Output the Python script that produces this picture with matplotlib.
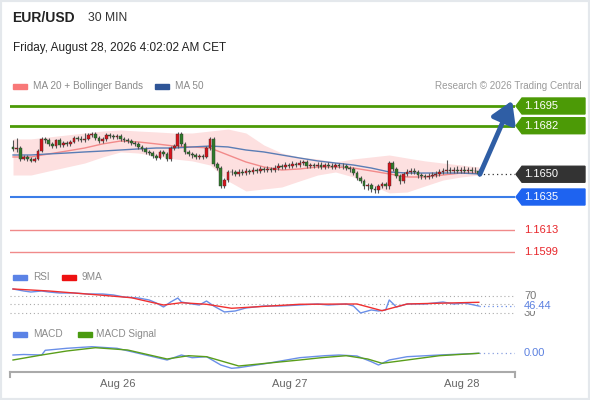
import numpy as np
import matplotlib.pyplot as plt
from matplotlib.patches import Polygon, Rectangle
from matplotlib.transforms import blended_transform_factory

plt.rcParams['font.family'] = ['Liberation Sans', 'DejaVu Sans']

# EUR/USD 30 min bars
first_open = 1.16680
closes = [
    1.16667, 1.16673, 1.16601, 1.16614, 1.16601, 1.16588, 1.16601, 1.16653, 1.16733, 1.16726,
    1.16700, 1.16686, 1.16726, 1.16693, 1.16706, 1.16700, 1.16713, 1.16739, 1.16733, 1.16726,
    1.16733, 1.16759, 1.16765, 1.16739, 1.16719, 1.16733, 1.16759, 1.16752, 1.16746, 1.16752,
    1.16733, 1.16726, 1.16719, 1.16706, 1.16700, 1.16680, 1.16667, 1.16647, 1.16640, 1.16620,
    1.16607, 1.16647, 1.16634, 1.16601, 1.16673, 1.16686, 1.16765, 1.16700, 1.16647, 1.16634,
    1.16627, 1.16614, 1.16620, 1.16614, 1.16673, 1.16733, 1.16568, 1.16541, 1.16423, 1.16462,
    1.16515, 1.16515, 1.16502, 1.16515, 1.16508, 1.16522, 1.16515, 1.16528, 1.16522, 1.16535,
    1.16528, 1.16535, 1.16528, 1.16541, 1.16555, 1.16548, 1.16561, 1.16555, 1.16568, 1.16561,
    1.16574, 1.16581, 1.16555, 1.16561, 1.16555, 1.16561, 1.16548, 1.16561, 1.16555, 1.16548,
    1.16561, 1.16555, 1.16555, 1.16541, 1.16535, 1.16508, 1.16475, 1.16456, 1.16423, 1.16429,
    1.16403, 1.16396, 1.16423, 1.16436, 1.16423, 1.16574, 1.16535, 1.16489, 1.16456, 1.16502,
    1.16515, 1.16522, 1.16515, 1.16495, 1.16489, 1.16482, 1.16489, 1.16495, 1.16502, 1.16515,
    1.16522, 1.16528, 1.16522, 1.16528, 1.16522, 1.16528, 1.16522, 1.16528, 1.16522, 1.16522,
    1.16500]
highs = [
    1.16726, 1.16739, 1.16686, 1.16627, 1.16627, 1.16614, 1.16614, 1.16667, 1.16746, 1.16746,
    1.16739, 1.16713, 1.16733, 1.16739, 1.16719, 1.16719, 1.16726, 1.16752, 1.16752, 1.16752,
    1.16772, 1.16772, 1.16779, 1.16779, 1.16752, 1.16746, 1.16772, 1.16772, 1.16765, 1.16765,
    1.16765, 1.16746, 1.16739, 1.16733, 1.16719, 1.16713, 1.16693, 1.16680, 1.16660, 1.16653,
    1.16634, 1.16660, 1.16660, 1.16647, 1.16686, 1.16700, 1.16779, 1.16779, 1.16713, 1.16660,
    1.16647, 1.16640, 1.16634, 1.16634, 1.16686, 1.16746, 1.16746, 1.16581, 1.16555, 1.16475,
    1.16528, 1.16535, 1.16528, 1.16535, 1.16535, 1.16541, 1.16535, 1.16548, 1.16541, 1.16555,
    1.16548, 1.16555, 1.16548, 1.16561, 1.16574, 1.16568, 1.16581, 1.16574, 1.16588, 1.16581,
    1.16594, 1.16594, 1.16594, 1.16574, 1.16574, 1.16581, 1.16581, 1.16574, 1.16581, 1.16574,
    1.16574, 1.16574, 1.16574, 1.16568, 1.16555, 1.16548, 1.16522, 1.16489, 1.16469, 1.16443,
    1.16443, 1.16423, 1.16436, 1.16449, 1.16449, 1.16588, 1.16588, 1.16548, 1.16502, 1.16515,
    1.16535, 1.16541, 1.16541, 1.16528, 1.16508, 1.16502, 1.16508, 1.16515, 1.16522, 1.16535,
    1.16541, 1.16594, 1.16548, 1.16548, 1.16555, 1.16548, 1.16555, 1.16548, 1.16548, 1.16548,
    1.16535]
lows = [
    1.16653, 1.16647, 1.16588, 1.16594, 1.16588, 1.16581, 1.16581, 1.16594, 1.16647, 1.16706,
    1.16686, 1.16673, 1.16673, 1.16680, 1.16680, 1.16686, 1.16686, 1.16706, 1.16719, 1.16713,
    1.16713, 1.16726, 1.16746, 1.16726, 1.16706, 1.16706, 1.16719, 1.16739, 1.16733, 1.16733,
    1.16719, 1.16713, 1.16706, 1.16693, 1.16686, 1.16667, 1.16653, 1.16634, 1.16627, 1.16607,
    1.16594, 1.16601, 1.16620, 1.16588, 1.16588, 1.16660, 1.16673, 1.16686, 1.16634, 1.16620,
    1.16607, 1.16601, 1.16601, 1.16601, 1.16607, 1.16660, 1.16555, 1.16528, 1.16410, 1.16410,
    1.16449, 1.16495, 1.16489, 1.16489, 1.16495, 1.16495, 1.16502, 1.16502, 1.16508, 1.16508,
    1.16515, 1.16515, 1.16515, 1.16515, 1.16528, 1.16535, 1.16535, 1.16541, 1.16541, 1.16548,
    1.16548, 1.16561, 1.16541, 1.16541, 1.16541, 1.16541, 1.16535, 1.16535, 1.16541, 1.16535,
    1.16535, 1.16541, 1.16535, 1.16528, 1.16515, 1.16495, 1.16462, 1.16443, 1.16403, 1.16396,
    1.16383, 1.16377, 1.16377, 1.16410, 1.16403, 1.16403, 1.16522, 1.16475, 1.16436, 1.16443,
    1.16489, 1.16502, 1.16502, 1.16475, 1.16469, 1.16469, 1.16469, 1.16475, 1.16482, 1.16489,
    1.16502, 1.16508, 1.16508, 1.16508, 1.16508, 1.16508, 1.16508, 1.16508, 1.16508, 1.16508,
    1.16489]
opens = [first_open] + closes[:-1]

# moving averages / bollinger, every 5th bar
ma_idx = list(range(0, 131, 5))
ma20 = [1.16614, 1.16614, 1.16634, 1.16653, 1.16673, 1.16700, 1.16719, 1.16713, 1.16700,
        1.16686, 1.16680, 1.16673, 1.16627, 1.16581, 1.16548, 1.16528, 1.16535, 1.16548,
        1.16548, 1.16541, 1.16522, 1.16502, 1.16482, 1.16482, 1.16495, 1.16508, 1.16508]
bb_up = [1.16733, 1.16733, 1.16746, 1.16759, 1.16772, 1.16785, 1.16792, 1.16785, 1.16779,
         1.16772, 1.16772, 1.16785, 1.16798, 1.16772, 1.16693, 1.16640, 1.16614, 1.16601,
         1.16581, 1.16601, 1.16614, 1.16627, 1.16607, 1.16588, 1.16574, 1.16561, 1.16548]
bb_low = [1.16495, 1.16495, 1.16522, 1.16548, 1.16574, 1.16614, 1.16647, 1.16640, 1.16620,
          1.16601, 1.16588, 1.16561, 1.16456, 1.16390, 1.16403, 1.16416, 1.16456, 1.16495,
          1.16515, 1.16482, 1.16429, 1.16377, 1.16383, 1.16423, 1.16462, 1.16482, 1.16495]
ma50 = [1.16627, 1.16627, 1.16634, 1.16640, 1.16647, 1.16653, 1.16660, 1.16667, 1.16673,
        1.16673, 1.16680, 1.16686, 1.16680, 1.16660, 1.16647, 1.16627, 1.16607, 1.16588,
        1.16574, 1.16561, 1.16541, 1.16515, 1.16508, 1.16508, 1.16508, 1.16508, 1.16502]

# RSI and its 9 period MA
rsi_idx = [0, 3, 5, 8, 10, 13, 17, 21, 25, 28, 31, 35, 38, 40, 42, 44, 46, 47, 50, 52, 54,
           56, 58, 59, 62, 65, 70, 75, 80, 85, 88, 93, 95, 97, 100, 102, 104, 105, 107, 110,
           115, 120, 123, 126, 130]
rsi = [86.5, 81.8, 79.4, 81.8, 79.4, 77.1, 77.1, 74.7, 74.7, 72.4, 67.6, 65.3, 60.6, 53.5,
       44.1, 55.9, 65.3, 55.9, 51.2, 48.8, 58.2, 46.5, 37.1, 32.4, 34.7, 41.8, 46.5, 46.5,
       48.8, 51.2, 48.8, 51.2, 46.5, 30.0, 37.1, 34.7, 37.1, 60.6, 44.1, 51.2, 51.2, 55.9,
       51.2, 53.5, 46.44]
rsi9_idx = [0, 10, 24, 33, 42, 47, 54, 61, 80, 96, 103, 110, 130]
rsi9 = [86.5, 81.8, 72.4, 66.0, 48.8, 54.2, 50.5, 41.1, 50.5, 51.2, 35.4, 51.2, 55.2]

# MACD (x 1e-5)
macd_idx = [0, 3, 8, 9, 15, 22, 29, 35, 43, 47, 50, 54, 58, 61, 63, 71, 80, 87, 91, 96,
            100, 102, 105, 110, 119, 130]
macd = [-1.7, -1.2, -1.7, 3.0, 5.0, 6.6, 5.0, 0.0, -6.7, -1.7, -4.4, -3.4, -11.7, -15.0,
        -14.4, -10.0, -4.4, -2.4, -1.7, -2.7, -8.4, -11.7, -6.7, -3.4, -1.7, 0.0]
sig_idx = [0, 8, 15, 23, 32, 43, 49, 54, 63, 80, 86, 93, 99, 103, 110, 119, 130]
sig = [-6.7, -1.7, 2.3, 5.6, 3.3, -5.7, -2.4, -3.4, -12.7, -6.7, -4.4, -2.4, -5.7, -10.0,
       -6.7, -2.4, 0.0]

res_levels = [1.1695, 1.1682]
sup_level = 1.1635
red_levels = [1.1613, 1.1599]
last_price = 1.1650
target = 1.16985
day_ticks = [29.3, 77.3, 125.3]
day_labels = ['Aug 26', 'Aug 27', 'Aug 28']

W, H = 590, 400
fig = plt.figure(figsize=(5.9, 4.0), dpi=100)


def rect(x0, y0, x1, y1):
    return [x0 / W, 1 - y1 / H, (x1 - x0) / W, (y1 - y0) / H]


def ftext(x, y, s, **kw):
    fig.text(x / W, 1 - y / H, s, va='center', **kw)


def fpatch(x, y, w, h, c):
    fig.patches.append(Rectangle((x / W, 1 - (y + h) / H), w / W, h / H,
                                 transform=fig.transFigure, color=c))


fig.patches.append(Rectangle((0, 0), 1, 1, transform=fig.transFigure, fill=False,
                             edgecolor='#e4e8ec', lw=3))

xlim = (-0.84, 140.1)

# ---- price panel
ax = fig.add_axes(rect(10, 95, 515, 262))
ax.set_xlim(*xlim)
ax.set_ylim(1.159215, 1.170225)
ax.axis('off')
bt = blended_transform_factory(ax.transAxes, ax.transData)

ax.fill_between(ma_idx, bb_low, bb_up, color='#fde0e0', lw=0, zorder=1)
ax.plot(ma_idx, ma20, color='#f28a8a', lw=1, zorder=2)
ax.plot(ma_idx, ma50, color='#5a7db5', lw=1, zorder=2)

for lv in res_levels:
    ax.axhline(lv, color='#4c9a06', lw=2, zorder=2)
ax.axhline(sup_level, color='#3b7de8', lw=1.5, zorder=2)
for lv in red_levels:
    ax.axhline(lv, color='#f08a8a', lw=1, zorder=2)

idx = np.arange(len(closes))
for i in idx:
    o, c = opens[i], closes[i]
    col = '#2f7a2a' if c < o else '#d8141c'
    if c == o:
        col = '#555555'
    ax.vlines(i, lows[i], highs[i], color='#555555', lw=0.8, zorder=3)
    ax.bar(i, max(abs(c - o), 0.00002), bottom=min(o, c), width=0.75, color=col,
           edgecolor='#333333', lw=0.3, zorder=4)

ax.plot([idx[-1], xlim[1]], [last_price, last_price], color='#333333', lw=0.9,
        ls=(0, (1, 2.5)), zorder=3)

ax.annotate('', xy=(139.3, target), xytext=(130.3, last_price),
            arrowprops=dict(arrowstyle='-|>,head_length=0.9,head_width=0.55', lw=3.5,
                            color='#2f5ea5', shrinkA=0, shrinkB=0, mutation_scale=14),
            zorder=6, annotation_clip=False)

h = 8 / 15167.0


def tag(price, color, label):
    pts = [(1.002, price), (1.0139, price + h), (1.1386, price + h),
           (1.1386, price - h), (1.0139, price - h)]
    ax.add_patch(Polygon(pts, closed=True, transform=bt, color=color, clip_on=False,
                         zorder=5))
    ax.text(1.0178, price, label, transform=bt, color='white', fontsize=8, va='center',
            clip_on=False, zorder=7)


for lv in res_levels:
    tag(lv, '#4c9a06', '%.4f' % lv)
tag(last_price, '#333333', '%.4f' % last_price)
tag(sup_level, '#1e63f0', '%.4f' % sup_level)
for lv in red_levels:
    ax.text(1.0178, lv, '%.4f' % lv, transform=bt, color='#e8262b', fontsize=8,
            va='center', clip_on=False)

# ---- RSI panel
ar = fig.add_axes(rect(10, 285, 515, 318))
ar.set_xlim(*xlim)
ar.set_ylim(18.2, 95.9)
ar.axis('off')
for lv in (70, 50, 30):
    ar.axhline(lv, color='#aaaaaa', lw=0.8, ls=(0, (1, 2.5)), zorder=1)
ar.plot(rsi_idx, rsi, color='#6a8fe8', lw=1, zorder=2)
ar.plot(rsi9_idx, rsi9, color='#f03030', lw=1, zorder=3)
ar.plot([rsi_idx[-1], xlim[1]], [rsi[-1], rsi[-1]], color='#6a8fe8', lw=0.9,
        ls=(0, (1, 2.5)))
rt = blended_transform_factory(ar.transAxes, ar.transData)
ar.text(1.0178, 70, '70', transform=rt, color='#777777', fontsize=8, va='center',
        clip_on=False)
ar.text(1.0178, 30, '30', transform=rt, color='#777777', fontsize=8, va='center',
        clip_on=False)
ar.text(1.0178, rsi[-1], '%.2f' % rsi[-1], transform=rt, color='#5b80e0', fontsize=8,
        va='center', clip_on=False,
        bbox=dict(facecolor='white', edgecolor='none', pad=0.3))

# ---- MACD panel
am = fig.add_axes(rect(10, 342, 515, 372))
am.set_xlim(*xlim)
am.set_ylim(-18.7, 11.3)
for s in ('top', 'left', 'right'):
    am.spines[s].set_visible(False)
am.spines['bottom'].set_color('#aaaaaa')
am.spines['bottom'].set_linewidth(1.5)
am.set_yticks([])
am.set_xticks(day_ticks, day_labels)
am.tick_params(axis='x', length=0, pad=5, labelsize=8, labelcolor='#666666')
for xe in (0, 1):
    am.plot([xe, xe], [0, -0.15], transform=am.transAxes, color='#aaaaaa', lw=1.5,
            clip_on=False)
am.plot(macd_idx, macd, color='#6a8fe8', lw=1, zorder=2)
am.plot(sig_idx, sig, color='#5a9e1a', lw=1, zorder=3)
am.plot([macd_idx[-1], xlim[1]], [0, 0], color='#8aa0e0', lw=0.9, ls=(0, (1, 2.5)))
mt = blended_transform_factory(am.transAxes, am.transData)
am.text(1.0178, 0, '0.00', transform=mt, color='#5b80e0', fontsize=8, va='center',
        clip_on=False)

# ---- header and legends
ftext(12, 18, 'EUR/USD', fontsize=10, fontweight='bold', color='#222222')
ftext(88, 18, '30 MIN', fontsize=8.7, color='#333333')
ftext(13, 48, 'Friday, August 28, 2026 4:02:02 AM CET', fontsize=8.5, color='#222222')

fpatch(13, 84, 14, 4.5, '#f87878')
ftext(33, 86, 'MA 20 + Bollinger Bands', fontsize=7.2, color='#8a8a8a')
fpatch(155, 84, 14, 4.5, '#2f5597')
ftext(175, 86, 'MA 50', fontsize=7.2, color='#8a8a8a')
fig.text(582 / W, 1 - 86 / H, 'Research \u00a9 2026 Trading Central', fontsize=7.1,
         color='#9a9a9a', ha='right', va='center')

fpatch(13, 275, 14, 4.5, '#5b83e6')
ftext(33, 277, 'RSI', fontsize=7.2, color='#8a8a8a')
fpatch(62, 275, 14, 4.5, '#ee1111')
ftext(82, 277, '9MA', fontsize=7.2, color='#8a8a8a')

fpatch(13, 332, 14, 4.5, '#5b83e6')
ftext(33, 334, 'MACD', fontsize=7.2, color='#8a8a8a')
fpatch(78, 332, 14, 4.5, '#4a9a10')
ftext(96, 334, 'MACD Signal', fontsize=7.2, color='#8a8a8a')

fig.savefig('out.png', dpi=100)
